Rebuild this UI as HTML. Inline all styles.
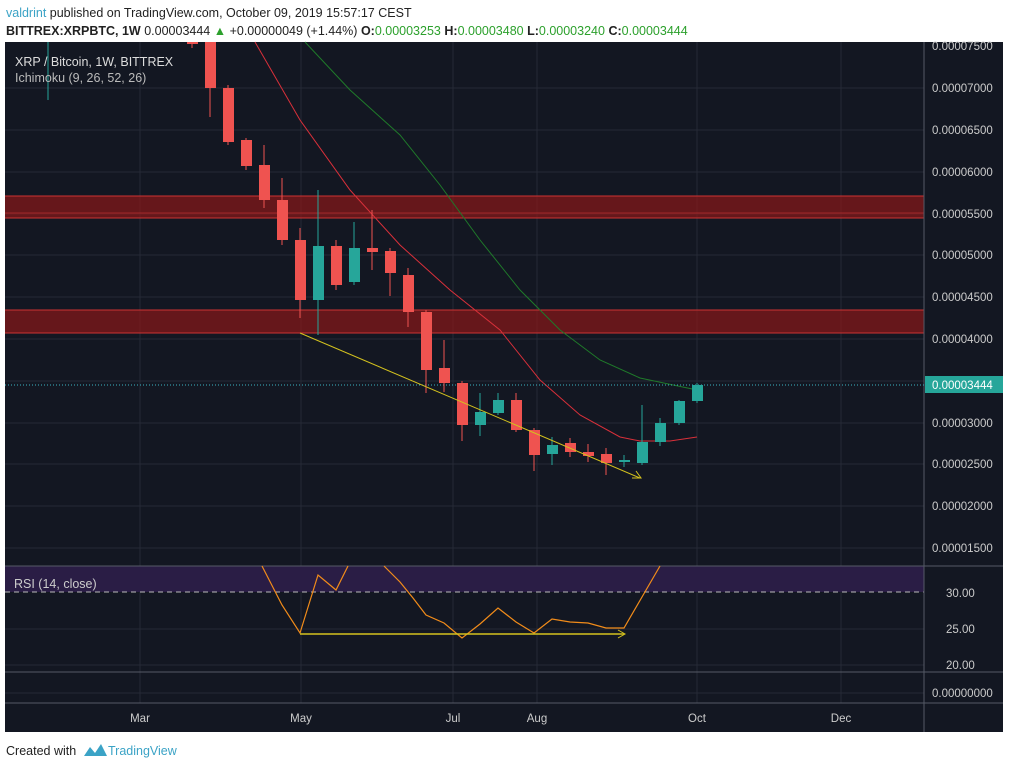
<!DOCTYPE html><html><head><style>body{margin:0;background:#fff;width:1010px;height:768px;overflow:hidden;font-family:"Liberation Sans",sans-serif}</style></head><body>
<svg width="1010" height="768" xmlns="http://www.w3.org/2000/svg" font-family="Liberation Sans, sans-serif">
<rect width="1010" height="768" fill="#fff"/>
<text x="6" y="17" font-size="12.5"><tspan fill="#3ba3c6">valdrint</tspan><tspan fill="#222"> published on TradingView.com, October 09, 2019 15:57:17 CEST</tspan></text>
<text x="6" y="35" font-size="12.5" fill="#222"><tspan font-weight="bold">BITTREX:XRPBTC, 1W</tspan> 0.00003444 <tspan fill="#2ca02c">▲</tspan> +0.00000049 (+1.44%) <tspan font-weight="bold">O:</tspan><tspan fill="#2ca02c">0.00003253</tspan> <tspan font-weight="bold">H:</tspan><tspan fill="#2ca02c">0.00003480</tspan> <tspan font-weight="bold">L:</tspan><tspan fill="#2ca02c">0.00003240</tspan> <tspan font-weight="bold">C:</tspan><tspan fill="#2ca02c">0.00003444</tspan></text>
<rect x="5" y="42" width="998" height="690" fill="#131722"/>
<g stroke="#262a36" stroke-width="1">
<line x1="140" y1="42" x2="140" y2="703"/><line x1="301" y1="42" x2="301" y2="703"/><line x1="453" y1="42" x2="453" y2="703"/><line x1="537" y1="42" x2="537" y2="703"/><line x1="697" y1="42" x2="697" y2="703"/><line x1="841" y1="42" x2="841" y2="703"/>
<line x1="5" y1="88" x2="924" y2="88"/><line x1="5" y1="130" x2="924" y2="130"/><line x1="5" y1="172" x2="924" y2="172"/><line x1="5" y1="214" x2="924" y2="214"/><line x1="5" y1="255" x2="924" y2="255"/><line x1="5" y1="297" x2="924" y2="297"/><line x1="5" y1="339" x2="924" y2="339"/><line x1="5" y1="381" x2="924" y2="381"/><line x1="5" y1="423" x2="924" y2="423"/><line x1="5" y1="464" x2="924" y2="464"/><line x1="5" y1="506" x2="924" y2="506"/><line x1="5" y1="548" x2="924" y2="548"/>
<line x1="5" y1="629" x2="924" y2="629"/><line x1="5" y1="665" x2="924" y2="665"/><line x1="5" y1="693" x2="924" y2="693"/>
</g>
<rect x="5" y="196" width="919" height="22" fill="#8a1818" opacity="0.7"/>
<line x1="5" y1="196" x2="924" y2="196" stroke="#c33" /><line x1="5" y1="218" x2="924" y2="218" stroke="#c33"/><line x1="5" y1="213" x2="924" y2="213" stroke="#c33" opacity=".6"/>
<rect x="5" y="310" width="919" height="23" fill="#8a1818" opacity="0.7"/>
<line x1="5" y1="310" x2="924" y2="310" stroke="#c33"/><line x1="5" y1="333" x2="924" y2="333" stroke="#c33"/>
<rect x="5" y="566" width="919" height="26" fill="#2a1d45"/>
<line x1="5" y1="592" x2="924" y2="592" stroke="#bbb" stroke-dasharray="5,4"/>
<g stroke="#555a66"><line x1="5" y1="566" x2="1003" y2="566"/><line x1="5" y1="672" x2="1003" y2="672"/><line x1="5" y1="703" x2="1003" y2="703"/><line x1="924" y1="42" x2="924" y2="732"/></g>
<polyline fill="none" stroke="#d9303a" stroke-width="1" points="255,42 300,120 350,190 400,245 450,290 500,330 540,380 580,415 620,437 640,441 670,441 697,437"/>
<polyline fill="none" stroke="#1f7a2a" stroke-width="1" points="305,42 350,90 400,135 440,185 480,240 520,290 560,330 600,360 640,378 697,390"/>
<line x1="5" y1="385" x2="924" y2="385" stroke="#3bb3c3" stroke-dasharray="1,2"/>
<line x1="48" y1="42" x2="48" y2="100" stroke="#26a69a"/>
<g id="c" stroke-width="1"></g>
<line x1="300" y1="333" x2="640" y2="478" stroke="#d4c21e"/><polyline points="632,478 641,478 636,471" fill="none" stroke="#d4c21e"/>
<polyline fill="none" stroke="#f28c1a" stroke-width="1.2" points="262,566 282,605 300,633 318,575 336,590 348,566"/>
<polyline fill="none" stroke="#f28c1a" stroke-width="1.2" points="384,566 400,582 413,598 426,615 444,623 462,638 480,624 498,608 516,622 534,633 552,619 570,622 588,623 606,628 624,628 660,566"/>
<line x1="300" y1="634" x2="624" y2="634" stroke="#d4c21e" stroke-width="1.5"/><polyline points="618,630 625,634 618,638" fill="none" stroke="#d4c21e"/>
<text x="15" y="66" font-size="12.5" fill="#ddd">XRP / Bitcoin, 1W, BITTREX</text>
<text x="15" y="82" font-size="12.5" fill="#bbb">Ichimoku (9, 26, 52, 26)</text>
<text x="14" y="588" font-size="12.5" fill="#ccc">RSI (14, close)</text>
<g font-size="11.5" fill="#ccc">
<text x="932" y="50">0.00007500</text><text x="932" y="92">0.00007000</text><text x="932" y="134">0.00006500</text><text x="932" y="176">0.00006000</text><text x="932" y="218">0.00005500</text><text x="932" y="259">0.00005000</text><text x="932" y="301">0.00004500</text><text x="932" y="343">0.00004000</text><text x="932" y="427">0.00003000</text><text x="932" y="468">0.00002500</text><text x="932" y="510">0.00002000</text><text x="932" y="552">0.00001500</text>
<text x="946" y="597">30.00</text><text x="946" y="633">25.00</text><text x="946" y="669">20.00</text><text x="932" y="697">0.00000000</text>
<text x="140" y="722" text-anchor="middle">Mar</text><text x="301" y="722" text-anchor="middle">May</text><text x="453" y="722" text-anchor="middle">Jul</text><text x="537" y="722" text-anchor="middle">Aug</text><text x="697" y="722" text-anchor="middle">Oct</text><text x="841" y="722" text-anchor="middle">Dec</text>
</g>
<rect x="925" y="376" width="78" height="17" fill="#26a69a"/>
<text x="932" y="389" font-size="11.5" fill="#fff">0.00003444</text>
<text x="6" y="755" font-size="12.5" fill="#222">Created with</text>
<path d="M84,756 l6,-9 l5,6 l6,-9 l6,12 z" fill="#3ba3c6"/>
<text x="108" y="755" font-size="12.5" fill="#3ba3c6">TradingView</text>
</svg>
<script>
var d=[[192,42,44,42,48],[210,42,88,42,117],[228,88,142,85,145],[246,140,166,138,170],[264,165,200,145,208],[282,200,240,178,245],[300,240,300,228,318],[318,300,246,190,335],[336,246,285,240,290],[354,282,248,222,285],[372,248,252,210,270],[390,251,273,248,296],[408,275,312,268,327],[426,312,370,310,393],[444,368,383,340,392],[462,383,425,381,441],[480,425,412,393,436],[498,413,400,393,415],[516,400,430,393,432],[534,430,455,428,471],[552,454,445,437,465],[570,443,452,438,457],[588,452,456,444,462],[606,454,463,448,475],[624,462,460,455,467],[642,463,442,405,465],[660,442,423,418,446],[679,423,401,400,425],[697,401,385,383,403]];
var g=document.getElementById('c'),s='';
d.forEach(function(c){var up=c[2]<c[1],col=up?'#26a69a':'#ef5350',t=Math.min(c[1],c[2]),h=Math.max(2,Math.abs(c[2]-c[1]));
s+='<line x1="'+c[0]+'" y1="'+c[3]+'" x2="'+c[0]+'" y2="'+c[4]+'" stroke="'+col+'"/><rect x="'+(c[0]-5)+'" y="'+t+'" width="11" height="'+h+'" fill="'+col+'"/>';});
g.innerHTML=s;
</script>
</body></html>
